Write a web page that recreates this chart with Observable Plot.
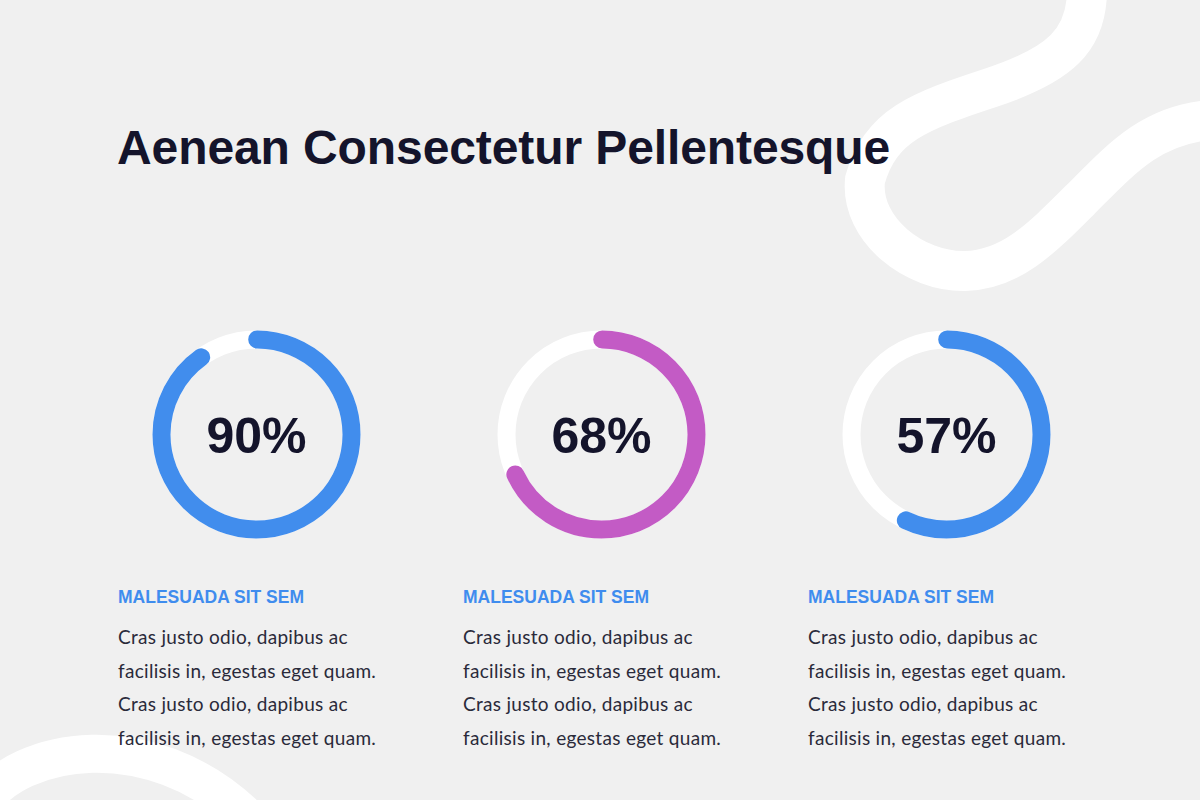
<!DOCTYPE html>
<html>
<head>
<meta charset="utf-8">
<script src="https://cdn.jsdelivr.net/npm/d3@7"></script>
<script src="https://cdn.jsdelivr.net/npm/@observablehq/plot@0.6"></script>
<style>
  html, body { margin: 0; padding: 0; background: #f0f0f0; }
  #page { position: relative; width: 1200px; height: 800px; overflow: hidden; background: #f0f0f0; }
  #decor { position: absolute; left: 0; top: 0; }
  #title { position: absolute; left: 117px; top: 124px; margin: 0; font: bold 48px "Liberation Sans", Arial, sans-serif; line-height: 48px; color: #14142b; white-space: nowrap; letter-spacing: -0.1px; }
  #chart { position: absolute; left: 0; top: 314px; }
  .block { position: absolute; top: 587px; width: 320px; }
  .head { font: bold 17.5px "Liberation Sans", Arial, sans-serif; line-height: 20px; color: #3f8cee; white-space: nowrap; }
  .body { margin-top: 13px; font: 19px Lato, "Open Sans", sans-serif; letter-spacing: 0.3px; line-height: 33.5px; color: #2a2a3a; white-space: pre; }
</style>
</head>
<body>
<div id="page">
  <svg id="decor" width="1200" height="800">
    <path d="M1087,-10 C1087,40 1060,65 990,88 S880,125 865,180 C860,230 915,272 965,271 C1010,270 1040,240 1080,200 C1120,160 1150,125 1210,120" fill="none" stroke="#ffffff" stroke-width="40"/>
    <path d="M-20,805 C20,745 150,725 245,815" fill="none" stroke="#ffffff" stroke-width="38"/>
  </svg>
  <h1 id="title"></h1>
  <div id="chart"></div>
</div>
<script>
// ---- data ----
const titleText = "Aenean Consectetur Pellentesque";
const categories = ["A", "B", "C"];
const values = [90, 68, 57];
const colors = ["#418ded", "#c35bc5", "#418ded"];
const headings = ["MALESUADA SIT SEM", "MALESUADA SIT SEM", "MALESUADA SIT SEM"];
const bodyLines = [
  "Cras justo odio, dapibus ac",
  "facilisis in, egestas eget quam.",
  "Cras justo odio, dapibus ac",
  "facilisis in, egestas eget quam."
];

const data = categories.map((c, i) => ({name: c, value: values[i], color: colors[i]}));

document.getElementById("title").textContent = titleText;

const R = 95;
const C = 2 * Math.PI * R;

const marks = [
  Plot.dot(data, {x: "name", r: R, fill: "none", stroke: "#ffffff", strokeWidth: 18, frameAnchor: "middle"}),
  ...data.map(d => Plot.dot([d], {
    x: "name", r: R, fill: "none", stroke: d.color, strokeWidth: 18,
    strokeLinecap: "round",
    strokeDasharray: `${(d.value / 100) * C} ${C - (d.value / 100) * C}`,
    strokeDashoffset: C / 4,
    frameAnchor: "middle"
  })),
  Plot.text(data, {
    x: "name", text: d => d.value + "%", frameAnchor: "middle", dy: 2,
    fontSize: 50, fontWeight: "bold", fill: "#14142b",
    fontFamily: "Liberation Sans, Arial, sans-serif"
  })
];

const plot = Plot.plot({
  width: 1200,
  height: 240,
  margin: 0,
  x: {type: "point", domain: categories, range: [256, 946], padding: 0, axis: null},
  style: {background: "transparent", overflow: "visible"},
  marks
});
document.getElementById("chart").appendChild(plot);

// text blocks under each ring, aligned from the x scale
const xs = plot.scale("x");
const page = document.getElementById("page");
categories.forEach((c, i) => {
  const b = document.createElement("div");
  b.className = "block";
  b.style.left = (xs.apply(c) - 138) + "px";
  const h = document.createElement("div");
  h.className = "head";
  h.textContent = headings[i];
  const p = document.createElement("div");
  p.className = "body";
  p.textContent = bodyLines.join("\n");
  b.appendChild(h);
  b.appendChild(p);
  page.appendChild(b);
});
</script>
</body>
</html>
